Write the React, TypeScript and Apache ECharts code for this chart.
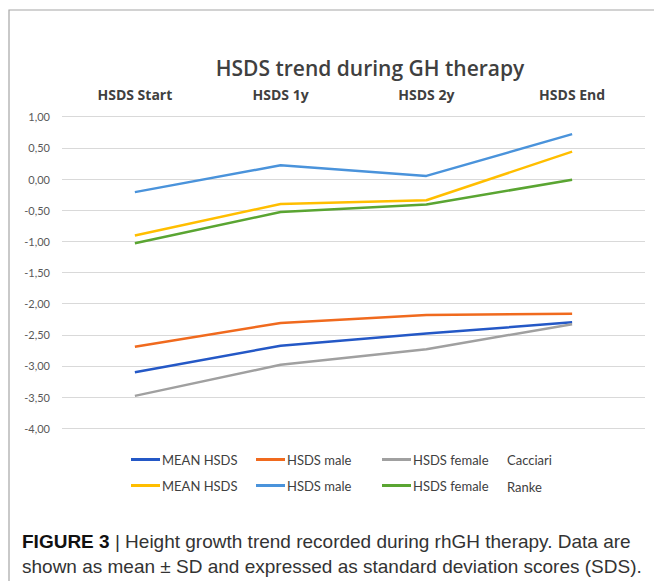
import React, { useEffect, useRef } from "react";
import * as echarts from "echarts";

const categories = ["HSDS Start", "HSDS 1y", "HSDS 2y", "HSDS End"];
const cacciariMean = [-3.1, -2.675, -2.48, -2.3];
const cacciariMale = [-2.69, -2.31, -2.18, -2.16];
const cacciariFemale = [-3.48, -2.98, -2.73, -2.33];
const rankeMean = [-0.905, -0.4, -0.34, 0.44];
const rankeMale = [-0.21, 0.22, 0.05, 0.72];
const rankeFemale = [-1.03, -0.53, -0.41, -0.01];
const yMin = -4;
const yMax = 1;
const yStep = 0.5;

const seriesDefs = [
  { name: "MEAN HSDS Cacciari", data: cacciariMean, color: "#2458C6" },
  { name: "HSDS male Cacciari", data: cacciariMale, color: "#F06A1E" },
  { name: "HSDS female Cacciari", data: cacciariFemale, color: "#A0A0A0" },
  { name: "MEAN HSDS Ranke", data: rankeMean, color: "#FFBE00" },
  { name: "HSDS male Ranke", data: rankeMale, color: "#4A93DB" },
  { name: "HSDS female Ranke", data: rankeFemale, color: "#5AA532" },
];

const legendCols = [
  ["MEAN HSDS Cacciari", "MEAN HSDS Ranke"],
  ["HSDS male Cacciari", "HSDS male Ranke"],
  ["HSDS female Cacciari", "HSDS female Ranke"],
];
const legendLefts = [131, 256, 382];

export default function App() {
  const ref = useRef<HTMLDivElement>(null);
  useEffect(() => {
    if (!ref.current) return;
    const chart = echarts.init(ref.current, null, { renderer: "svg" });
    const font = "Lato, 'Open Sans', sans-serif";
    const font2 = "'Open Sans', Lato, sans-serif";
    const capFont = "'Liberation Sans', Arial, sans-serif";
    chart.setOption({
      animation: false,
      backgroundColor: "#ffffff",
      title: {
        text: "HSDS trend during GH therapy",
        left: 365,
        top: 52,
        textAlign: "center",
        textStyle: { fontFamily: font2, fontSize: 21, fontWeight: 600, color: "#404040" },
      },
      grid: { left: 62, right: 9, top: 116.7, bottom: 152.7, containLabel: false },
      xAxis: {
        type: "category",
        data: categories,
        position: "top",
        boundaryGap: true,
        axisLine: { show: false },
        axisTick: { show: false },
        axisLabel: { fontFamily: font2, fontSize: 14, fontWeight: "bold", color: "#404040", margin: 15 },
      },
      yAxis: {
        type: "value",
        min: yMin,
        max: yMax,
        interval: yStep,
        axisLine: { show: false },
        axisTick: { show: false },
        splitLine: { lineStyle: { color: "#d9d9d9", width: 1 } },
        axisLabel: {
          fontFamily: font,
          fontSize: 11,
          color: "#595959",
          margin: 12,
          formatter: (v: number) => v.toFixed(2).replace(".", ","),
        },
      },
      legend: legendCols.map((names, i) => ({
        data: names,
        orient: "vertical",
        left: legendLefts[i],
        top: 453,
        itemWidth: 29,
        itemHeight: 3,
        itemGap: 13,
        icon: "rect",
        selectedMode: false,
        padding: 0,
        formatter: (n: string) => n.replace(/ (Cacciari|Ranke)$/, ""),
        textStyle: { fontFamily: font, fontSize: 13, color: "#404040", padding: [0, 0, 0, -3] },
      })),
      series: seriesDefs.map((s) => ({
        name: s.name,
        type: "line",
        data: s.data,
        symbol: "none",
        color: s.color,
        lineStyle: { color: s.color, width: 2.5 },
      })),
      graphic: [
        {
          type: "rect",
          shape: { x: 9, y: 10, width: 700, height: 620 },
          style: { fill: "none", stroke: "#a6a6a6", lineWidth: 1.2 },
          silent: true,
        },
        {
          type: "text",
          x: 507,
          y: 460,
          style: { text: "Cacciari", fontFamily: font, fontSize: 13, fill: "#404040", verticalAlign: "middle" },
        },
        {
          type: "text",
          x: 507,
          y: 487,
          style: { text: "Ranke", fontFamily: font, fontSize: 13, fill: "#404040", verticalAlign: "middle" },
        },
        {
          type: "text",
          x: 22,
          y: 541,
          style: {
            text: "{b|FIGURE 3} | Height growth trend recorded during rhGH therapy. Data are",
            fontFamily: capFont,
            fontSize: 19,
            fill: "#333333",
            verticalAlign: "middle",
            rich: {
              b: { fontFamily: capFont, fontSize: 19, fontWeight: "bold", fill: "#111111" },
            },
          },
        },
        {
          type: "text",
          x: 22,
          y: 566,
          style: {
            text: "shown as mean ± SD and expressed as standard deviation scores (SDS).",
            fontFamily: capFont,
            fontSize: 19,
            fill: "#333333",
            verticalAlign: "middle",
          },
        },
      ],
    });
    return () => chart.dispose();
  }, []);
  return (
    <div
      ref={ref}
      style={{ position: "fixed", left: 0, top: 0, width: 654, height: 581 }}
    />
  );
}
